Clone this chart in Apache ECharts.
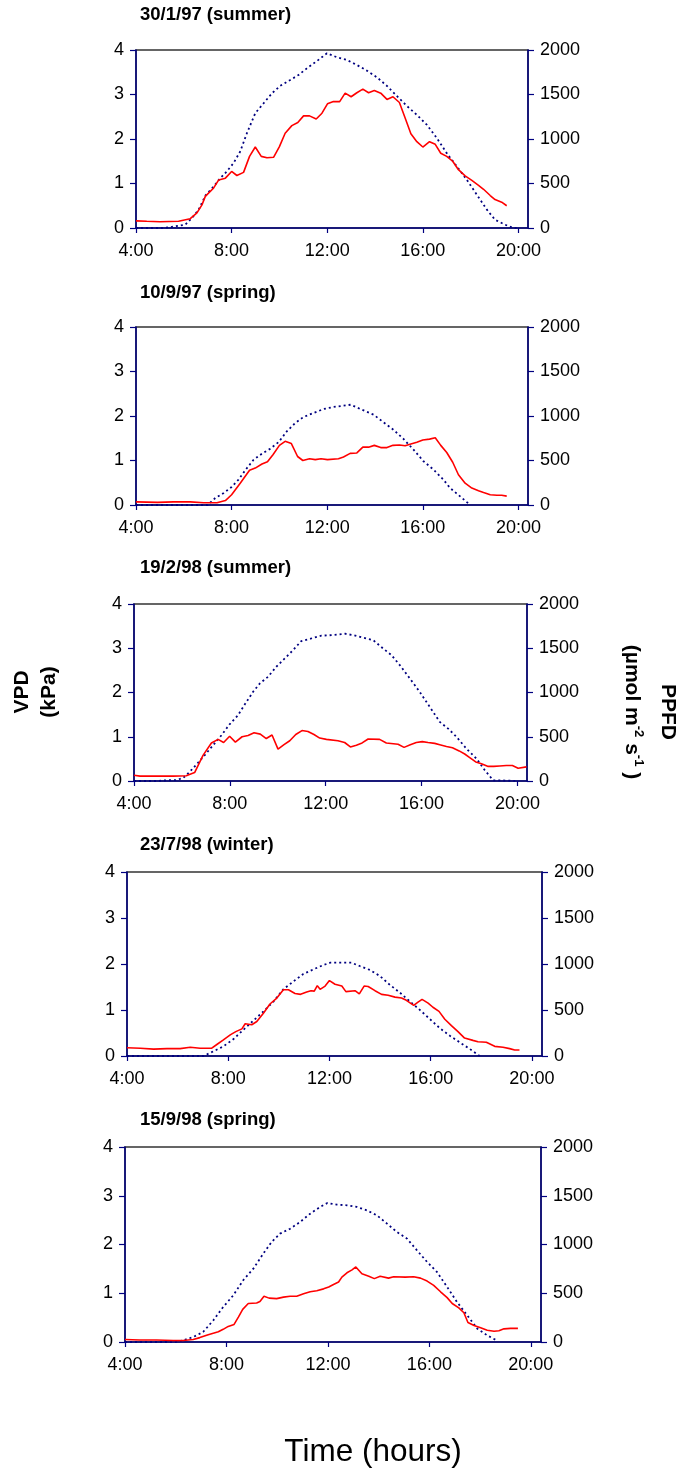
<!DOCTYPE html>
<html><head><meta charset="utf-8">
<script src="https://cdn.jsdelivr.net/npm/echarts@6/dist/echarts.min.js"></script>
<style>html,body{margin:0;padding:0;background:#fff}#c{width:678px;height:1470px}</style>
</head><body><div id="c"></div>
<script>
// ---------------- data ----------------
const panelTitles = ['30/1/97 (summer)', '10/9/97 (spring)', '19/2/98 (summer)', '23/7/98 (winter)', '15/9/98 (spring)'];
const xTickValues = [4, 8, 12, 16, 20];
const xTickLabels = ['4:00', '8:00', '12:00', '16:00', '20:00'];
const vpdTicks = [0, 1, 2, 3, 4];
const ppfdTicks = [0, 500, 1000, 1500, 2000];
const xAxisLabel = 'Time (hours)';
const vpdLabel = ['VPD', '(kPa)'];

// [time (h), VPD (kPa)]
const vpd1 = [[4.0,0.16],[4.45,0.15],[5.0,0.14],[5.78,0.15],[6.27,0.21],[6.55,0.34],[6.76,0.52],[6.9,0.71],[7.25,0.9],[7.46,1.08],[7.74,1.12],[8.0,1.27],[8.22,1.18],[8.5,1.25],[8.75,1.61],[8.99,1.82],[9.24,1.61],[9.48,1.58],[9.76,1.59],[10.0,1.83],[10.24,2.13],[10.52,2.3],[10.77,2.37],[11.01,2.52],[11.26,2.52],[11.54,2.45],[11.78,2.58],[12.01,2.79],[12.26,2.84],[12.52,2.84],[12.75,3.03],[13.0,2.95],[13.24,3.04],[13.49,3.12],[13.73,3.04],[13.97,3.09],[14.24,3.03],[14.5,2.89],[14.75,2.95],[15.02,2.82],[15.26,2.47],[15.5,2.12],[15.75,1.94],[16.0,1.82],[16.28,1.94],[16.52,1.88],[16.75,1.68],[17.0,1.61],[17.25,1.5],[17.49,1.31],[17.77,1.17],[18.05,1.07],[18.33,0.96],[18.54,0.87],[18.82,0.73],[19.02,0.64],[19.3,0.58],[19.51,0.5]];
// [time (h), PPFD (umol m-2 s-1)]
const ppfd1 = [[4.0,0],[5.1,0],[5.44,10],[6.06,37],[6.34,112],[6.62,206],[6.9,363],[7.25,467],[7.53,561],[7.8,636],[8.08,729],[8.36,860],[8.64,1065],[8.99,1290],[9.34,1402],[9.69,1514],[10.03,1596],[10.45,1663],[10.8,1720],[11.15,1794],[11.57,1876],[11.99,1963],[12.41,1918],[12.82,1888],[13.24,1832],[13.66,1768],[14.08,1693],[14.5,1596],[14.91,1484],[15.33,1372],[15.75,1271],[16.17,1159],[16.59,1009],[17.0,841],[17.42,692],[17.84,542],[18.26,374],[18.68,206],[19.02,93],[19.44,37],[19.79,0],[20.0,0]];

const vpd2 = [[4.0,0.07],[4.9,0.06],[5.57,0.07],[6.27,0.07],[6.83,0.05],[7.39,0.05],[7.74,0.1],[8.0,0.23],[8.36,0.49],[8.75,0.78],[8.99,0.83],[9.27,0.92],[9.5,0.97],[9.73,1.13],[10.0,1.34],[10.24,1.43],[10.5,1.38],[10.76,1.09],[10.98,1.0],[11.26,1.04],[11.5,1.02],[11.74,1.04],[12.01,1.02],[12.47,1.04],[12.68,1.08],[12.96,1.16],[13.24,1.17],[13.49,1.3],[13.73,1.3],[13.97,1.34],[14.24,1.29],[14.5,1.29],[14.75,1.34],[15.02,1.35],[15.26,1.33],[15.5,1.37],[15.75,1.41],[16.0,1.46],[16.28,1.48],[16.52,1.51],[16.75,1.34],[17.0,1.18],[17.25,0.96],[17.49,0.68],[17.77,0.49],[18.05,0.38],[18.33,0.32],[18.54,0.28],[18.82,0.23],[19.1,0.22],[19.3,0.22],[19.51,0.2]];
const ppfd2 = [[4.0,0],[7.0,0],[7.32,79],[7.67,135],[8.0,202],[8.29,285],[8.57,390],[8.92,509],[9.27,577],[9.62,633],[9.97,708],[10.31,828],[10.66,921],[11.01,989],[11.43,1034],[11.85,1079],[12.26,1101],[12.68,1116],[12.99,1127],[13.38,1079],[13.94,1015],[14.36,929],[14.77,846],[15.19,742],[15.61,622],[16.03,491],[16.45,397],[16.86,285],[17.14,191],[17.56,97],[17.98,0]];

const vpd3 = [[4.0,0.13],[4.25,0.11],[4.93,0.11],[5.63,0.11],[6.18,0.12],[6.53,0.19],[6.88,0.58],[7.23,0.86],[7.51,0.94],[7.74,0.87],[7.99,1.01],[8.23,0.88],[8.51,1.0],[8.76,1.03],[9.01,1.09],[9.27,1.06],[9.52,0.96],[9.76,1.04],[10.01,0.72],[10.26,0.82],[10.5,0.91],[10.75,1.05],[11.01,1.14],[11.26,1.12],[11.51,1.05],[11.75,0.97],[12.03,0.94],[12.51,0.91],[12.79,0.87],[13.03,0.77],[13.28,0.81],[13.52,0.86],[13.77,0.95],[14.25,0.94],[14.53,0.86],[15.02,0.83],[15.27,0.76],[15.53,0.82],[15.78,0.87],[16.03,0.89],[16.27,0.87],[16.55,0.85],[16.76,0.82],[17.04,0.78],[17.29,0.75],[17.57,0.68],[17.8,0.61],[18.01,0.53],[18.26,0.43],[18.5,0.39],[18.78,0.33],[19.01,0.33],[19.26,0.34],[19.54,0.35],[19.79,0.35],[20.03,0.29],[20.38,0.32]];
const ppfd3 = [[4.0,0],[4.9,0],[5.4,8],[5.75,10],[6.05,34],[6.32,102],[6.6,185],[6.95,291],[7.3,404],[7.65,517],[7.99,641],[8.34,743],[8.62,864],[8.97,1008],[9.25,1102],[9.59,1177],[9.94,1291],[10.29,1385],[10.64,1479],[10.98,1581],[11.4,1611],[11.82,1642],[12.31,1649],[12.8,1664],[13.14,1649],[13.56,1619],[13.98,1592],[14.39,1498],[14.74,1423],[15.09,1310],[15.51,1159],[15.92,1008],[16.34,838],[16.76,668],[17.11,592],[17.46,498],[17.87,366],[18.29,253],[18.64,121],[18.99,8],[19.4,6],[19.96,0]];

const vpd4 = [[4.0,0.18],[4.53,0.17],[5.05,0.15],[5.58,0.16],[6.1,0.16],[6.5,0.19],[6.89,0.17],[7.35,0.17],[7.55,0.25],[7.81,0.35],[8.08,0.46],[8.3,0.53],[8.54,0.59],[8.67,0.7],[8.93,0.68],[9.13,0.75],[9.39,0.93],[9.65,1.13],[9.92,1.26],[10.18,1.44],[10.38,1.44],[10.64,1.36],[10.86,1.34],[11.1,1.39],[11.27,1.42],[11.4,1.41],[11.52,1.53],[11.63,1.45],[11.83,1.52],[12.0,1.64],[12.22,1.56],[12.49,1.52],[12.65,1.4],[13.01,1.42],[13.18,1.35],[13.37,1.52],[13.53,1.51],[13.8,1.42],[14.06,1.34],[14.32,1.32],[14.59,1.28],[14.85,1.26],[15.04,1.21],[15.33,1.1],[15.5,1.17],[15.66,1.23],[15.9,1.15],[16.09,1.06],[16.33,0.97],[16.56,0.8],[16.82,0.66],[17.08,0.53],[17.34,0.39],[17.67,0.34],[17.87,0.31],[18.2,0.3],[18.53,0.21],[18.86,0.19],[19.12,0.16],[19.32,0.13],[19.51,0.13]];
const ppfd4 = [[4.0,0],[7.02,0],[7.42,51],[7.81,105],[8.21,184],[8.6,285],[9.0,386],[9.39,484],[9.79,592],[10.18,726],[10.57,809],[10.97,892],[11.37,942],[11.76,989],[12.03,1014],[12.42,1014],[12.87,1014],[13.2,978],[13.6,935],[13.99,870],[14.39,773],[14.78,690],[15.18,592],[15.57,502],[15.97,401],[16.36,303],[16.76,220],[17.15,148],[17.55,76],[17.94,0]];

const vpd5 = [[4.0,0.05],[4.58,0.04],[5.24,0.04],[5.9,0.03],[6.29,0.03],[6.69,0.05],[6.95,0.09],[7.28,0.15],[7.48,0.18],[7.68,0.21],[7.87,0.26],[8.07,0.32],[8.3,0.36],[8.47,0.51],[8.64,0.67],[8.86,0.79],[9.19,0.8],[9.32,0.83],[9.48,0.94],[9.68,0.9],[9.98,0.89],[10.25,0.92],[10.51,0.94],[10.77,0.94],[11.04,0.99],[11.3,1.03],[11.56,1.05],[11.83,1.09],[12.03,1.13],[12.22,1.18],[12.42,1.23],[12.55,1.33],[12.75,1.42],[12.95,1.48],[13.1,1.54],[13.34,1.4],[13.61,1.35],[13.83,1.3],[14.06,1.35],[14.39,1.31],[14.59,1.34],[15.05,1.33],[15.38,1.34],[15.65,1.31],[15.91,1.25],[16.17,1.16],[16.44,1.03],[16.7,0.91],[16.9,0.79],[17.16,0.7],[17.36,0.6],[17.52,0.4],[17.76,0.34],[18.02,0.29],[18.28,0.24],[18.55,0.22],[18.74,0.23],[18.94,0.27],[19.2,0.28],[19.49,0.28]];
const ppfd5 = [[4.0,0],[6.0,0],[6.29,17],[6.69,51],[7.08,103],[7.48,222],[7.87,359],[8.27,479],[8.66,633],[9.06,752],[9.45,906],[9.78,1026],[10.11,1111],[10.51,1162],[10.9,1231],[11.3,1316],[11.69,1385],[11.98,1426],[12.35,1409],[12.75,1402],[13.14,1385],[13.54,1350],[13.93,1299],[14.33,1214],[14.72,1128],[15.12,1060],[15.51,940],[15.91,821],[16.3,718],[16.7,564],[17.09,410],[17.49,274],[17.89,137],[18.28,68],[18.7,10]];

const vpdSeries = [vpd1, vpd2, vpd3, vpd4, vpd5];
const ppfdSeries = [ppfd1, ppfd2, ppfd3, ppfd4, ppfd5];

// ---------------- layout ----------------
const FONT = "'Liberation Sans', Arial, sans-serif";
const NAVY = '#000080';
const grids = [
  {left: 136, top: 50, width: 392, height: 178},
  {left: 136, top: 327, width: 392, height: 178},
  {left: 134, top: 604, width: 393, height: 177},
  {left: 127, top: 872, width: 415, height: 184},
  {left: 125, top: 1147, width: 416, height: 195}
];
const titleY = [15, 293, 568, 845, 1120];

const axisLineStyle = {show: true, lineStyle: {color: NAVY, width: 1.5}};
const tickStyle = {show: true, inside: false, length: 6, lineStyle: {color: NAVY, width: 1.2}};
const labelStyle = {color: '#000', fontSize: 18, fontFamily: FONT};

const option = {
  animation: false,
  backgroundColor: '#fff',
  grid: grids.map(g => Object.assign({show: true, borderColor: '#333', borderWidth: 1.5, backgroundColor: 'transparent'}, g)),
  xAxis: grids.map((g, i) => ({
    type: 'value', gridIndex: i, min: 4, max: 20.4,
    axisLine: axisLineStyle,
    axisTick: Object.assign({}, tickStyle, {length: 5, customValues: xTickValues}),
    axisLabel: Object.assign({}, labelStyle, {margin: 14, customValues: xTickValues,
      formatter: v => xTickLabels[xTickValues.indexOf(v)] || ''}),
    splitLine: {show: false}
  })),
  yAxis: [].concat(...grids.map((g, i) => [
    {type: 'value', gridIndex: i, position: 'left', min: vpdTicks[0], max: vpdTicks[vpdTicks.length - 1], interval: 1,
     axisLine: axisLineStyle, axisTick: tickStyle,
     axisLabel: Object.assign({}, labelStyle, {margin: 12, formatter: v => String(v)}), splitLine: {show: false}},
    {type: 'value', gridIndex: i, position: 'right', min: ppfdTicks[0], max: ppfdTicks[ppfdTicks.length - 1], interval: 500,
     axisLine: axisLineStyle, axisTick: tickStyle,
     axisLabel: Object.assign({}, labelStyle, {margin: 12, formatter: v => String(v)}), splitLine: {show: false}}
  ])),
  series: [].concat(...grids.map((g, i) => [
    {type: 'line', xAxisIndex: i, yAxisIndex: 2 * i + 1, data: ppfdSeries[i], showSymbol: false, smooth: false,
     lineStyle: {color: NAVY, width: 1.8, type: [2, 3]}, z: 3},
    {type: 'line', xAxisIndex: i, yAxisIndex: 2 * i, data: vpdSeries[i], showSymbol: false, smooth: false,
     lineStyle: {color: '#ff0000', width: 1.6}, z: 4}
  ])),
  graphic: [
    ...panelTitles.map((t, i) => ({
      type: 'text', x: 140, y: titleY[i],
      style: {text: t, fill: '#000', font: `bold 18.5px ${FONT}`, verticalAlign: 'middle'}
    })),
    {type: 'text', x: 36, y: 692, rotation: Math.PI / 2,
     style: {text: vpdLabel.join('\n'), fill: '#000', font: `bold 21px ${FONT}`, lineHeight: 27,
             align: 'center', verticalAlign: 'middle'}},
    {type: 'text', x: 655, y: 712, rotation: -Math.PI / 2,
     style: {
       text: '{p|PPFD}\n{b|(µmol m}{s|-2}{b| s}{s|-1}{b| )}',
       align: 'center', verticalAlign: 'middle',
       rich: {
         p: {fontSize: 21, fontWeight: 'bold', fontFamily: FONT, fill: '#000', lineHeight: 46},
         b: {fontSize: 21, fontWeight: 'bold', fontFamily: FONT, fill: '#000', lineHeight: 26},
         s: {fontSize: 13, fontWeight: 'bold', fontFamily: FONT, fill: '#000', lineHeight: 14, verticalAlign: 'top'}
       }
     }},
    {type: 'text', x: 373, y: 1452,
     style: {text: xAxisLabel, fill: '#000', font: `31.5px ${FONT}`, align: 'center', verticalAlign: 'middle'}}
  ]
};

const chart = echarts.init(document.getElementById('c'), null, {renderer: 'canvas'});
chart.setOption(option);
</script>
</body></html>
